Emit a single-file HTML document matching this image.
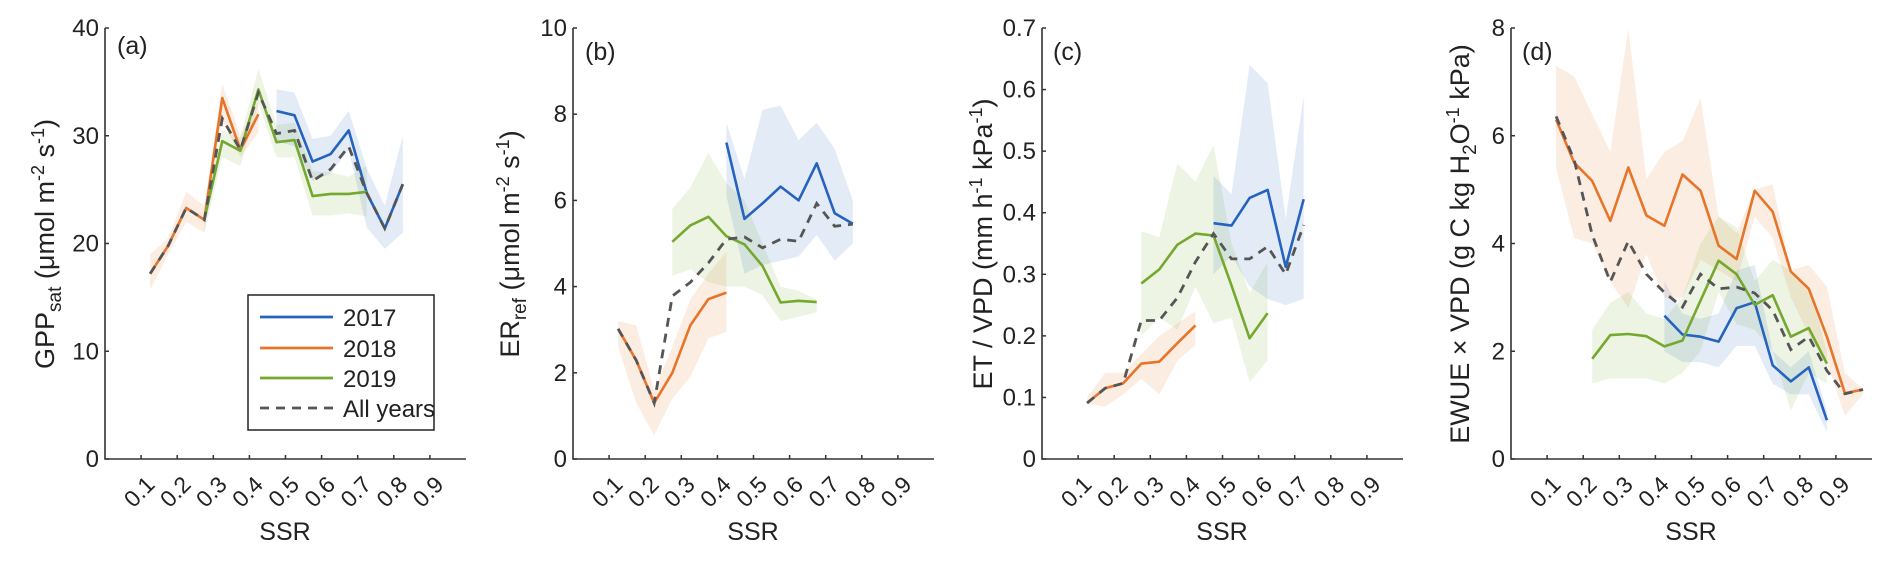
<!DOCTYPE html>
<html><head><meta charset="utf-8"><style>
html,body{margin:0;padding:0;background:#fff}
svg text{font-family:"Liberation Sans",sans-serif;fill:#222}
</style></head><body>
<svg id="chart" width="1892" height="559" viewBox="0 0 1892 559" xmlns="http://www.w3.org/2000/svg"></svg>
<script>
const ssrBins=[0.125,0.175,0.225,0.275,0.325,0.375,0.425,0.475,0.525,0.575,0.625,0.675,0.725,0.775,0.825,0.875,0.925,0.975];
const xTicks=[0.1,0.2,0.3,0.4,0.5,0.6,0.7,0.8,0.9];
const xTickLabels=["0.1","0.2","0.3","0.4","0.5","0.6","0.7","0.8","0.9"];
// Panel a: GPPsat
const aTicks=[0,10,20,30,40];
const a2017Start=7, a2017=[32.3,31.9,27.6,28.3,30.5,24.7,21.4,25.5], a2017Lo=[29.5,29,25.8,26.5,28.7,21.5,19.5,21], a2017Hi=[34.3,34,29.7,30,32.3,27,23.5,30];
const a2018Start=0, a2018=[17.2,19.8,23.3,22.2,33.5,28.7,32.0], a2018Lo=[15.7,19,22,21,31.5,28,30.3], a2018Hi=[19,20.5,24.8,23.5,34.8,30,33.3];
const a2019Start=3, a2019=[22.2,29.5,28.6,34.3,29.4,29.6,24.4,24.6,24.6,24.8], a2019Lo=[21,28,27.2,33,28,28,22.6,22.6,22.8,22.5], a2019Hi=[23,30.5,29.8,36.2,31,31.2,26.7,26.6,26.2,27.2];
const aAllStart=0, aAll=[17.2,19.8,23.3,22.2,31.6,28.7,34.0,30.2,30.5,25.8,26.9,29.0,24.7,21.4,25.5];
// Panel b: ERref
const bTicks=[0,2,4,6,8,10];
const b2017Start=6, b2017=[7.34,5.57,5.93,6.32,6.0,6.86,5.7,5.46], b2017Lo=[6.1,4.3,4.5,4.6,4.7,5.2,4.6,5.0], b2017Hi=[7.8,6.5,8.1,8.2,7.4,7.8,7.2,6.0];
const b2018Start=0, b2018=[3.02,2.29,1.3,2.0,3.1,3.71,3.86], b2018Lo=[2.6,1.3,0.55,1.4,1.9,2.8,2.95], b2018Hi=[3.2,3.1,1.6,2.6,3.7,4.3,4.8];
const b2019Start=3, b2019=[5.04,5.42,5.62,5.17,4.98,4.48,3.63,3.67,3.64], b2019Lo=[4.25,4.4,4.1,4.0,4.0,3.8,3.2,3.3,3.4], b2019Hi=[5.8,6.3,7.1,6.4,6.0,5.0,4.0,3.9,3.7];
const bAllStart=0, bAll=[3.02,2.29,1.3,3.78,4.1,4.55,5.1,5.15,4.9,5.1,5.05,5.93,5.4,5.45];
// Panel c: ET/VPD
const cTicks=[0,0.1,0.2,0.3,0.4,0.5,0.6,0.7];
const c2017Start=7, c2017=[0.383,0.379,0.424,0.437,0.312,0.422], c2017Lo=[0.3,0.33,0.28,0.26,0.25,0.26], c2017Hi=[0.46,0.43,0.64,0.61,0.39,0.59];
const c2018Start=0, c2018=[0.091,0.115,0.123,0.155,0.158,0.188,0.217], c2018Lo=[0.09,0.085,0.105,0.13,0.105,0.16,0.185], c2018Hi=[0.10,0.14,0.14,0.17,0.2,0.22,0.24];
const c2019Start=3, c2019=[0.285,0.308,0.348,0.366,0.363,0.282,0.196,0.237], c2019Lo=[0.2,0.23,0.21,0.28,0.22,0.23,0.125,0.16], c2019Hi=[0.37,0.36,0.48,0.45,0.51,0.35,0.27,0.32];
const cAllStart=0, cAll=[0.091,0.115,0.123,0.225,0.225,0.262,0.32,0.366,0.325,0.325,0.345,0.30,0.38];
// Panel d: EWUE x VPD
const dTicks=[0,2,4,6,8];
const d2017Start=6, d2017=[2.66,2.31,2.27,2.18,2.8,2.91,1.74,1.44,1.70,0.72], d2017Lo=[2.0,1.8,1.8,1.7,2.1,2.1,1.4,1.2,1.2,0.5], d2017Hi=[3.3,2.7,2.6,2.7,3.5,3.6,2.0,1.7,2.0,0.9];
const d2018Start=0, d2018=[6.3,5.5,5.16,4.42,5.41,4.52,4.33,5.28,4.98,3.96,3.71,4.98,4.59,3.48,3.16,2.27,1.22,1.29], d2018Lo=[5.4,4.1,4.0,3.3,2.8,3.8,3.0,3.0,3.7,3.5,3.3,4.5,4.1,3.0,2.3,1.8,0.8,1.2], d2018Hi=[7.3,7.1,6.4,5.7,8.0,5.2,5.7,5.9,6.7,4.5,4.2,5.0,5.1,3.5,3.6,3.2,1.6,1.3];
const d2019Start=2, d2019=[1.86,2.3,2.32,2.28,2.09,2.2,2.94,3.68,3.43,2.86,3.04,2.27,2.43,1.77], d2019Lo=[1.4,1.5,1.5,1.5,1.4,1.6,2.0,3.1,2.5,2.4,2.0,0.9,1.6,1.4], d2019Hi=[2.4,2.9,3.1,2.7,2.6,3.0,4.0,4.5,4.3,3.3,3.7,3.5,3.2,2.0];
const dAllStart=0, dAll=[6.36,5.55,4.16,3.29,4.04,3.43,3.09,2.82,3.43,3.16,3.19,3.08,2.76,2.03,2.27,1.64,1.21,1.29];

const NS="http://www.w3.org/2000/svg";
const svg=document.getElementById('chart');
const COL={c2017:"#2563be",c2018:"#e8742a",c2019:"#74a82e",all:"#555555"};
const TOP=28,BOT=459,W=361;
function mk(tag,attrs,parent){const e=document.createElementNS(NS,tag);for(const k in attrs)e.setAttribute(k,attrs[k]);(parent||svg).appendChild(e);return e;}

function panel(p){
  const g=mk('g',{});
  
  
  const X=v=>p.left+v*W;
  const Y=v=>BOT-(v-p.ymin)/(p.ymax-p.ymin)*(BOT-TOP);
  p.series.forEach(s=>{
    const top=s.hi.map((v,i)=>X(ssrBins[s.start+i]).toFixed(1)+','+Y(v).toFixed(1));
    const bot=s.lo.map((v,i)=>X(ssrBins[s.start+i]).toFixed(1)+','+Y(v).toFixed(1)).reverse();
    const b=mk('polygon',{points:top.concat(bot).join(' '),fill:s.color,'fill-opacity':0.13,stroke:'none'},g);
    
    
  });
  p.series.forEach(s=>{
    const pts=s.v.map((v,i)=>X(ssrBins[s.start+i]).toFixed(1)+','+Y(v).toFixed(1)).join(' ');
    const l=mk('polyline',{points:pts,fill:'none',stroke:s.color,'stroke-width':2.6,'stroke-linejoin':'round'},g);
    
    
  });
  const a=p.all;
  const pts=a.v.map((v,i)=>X(ssrBins[a.start+i]).toFixed(1)+','+Y(v).toFixed(1)).join(' ');
  const dl=mk('polyline',{points:pts,fill:'none',stroke:COL.all,'stroke-width':2.8,'stroke-dasharray':'9,7'},g);
  
  
  const ax=mk('path',{d:`M${p.left},${TOP} V${BOT} H${p.left+W}`,fill:'none',stroke:'#333','stroke-width':1.6},g);
  
  
  p.yticks.forEach(t=>{
    mk('line',{x1:p.left,x2:p.left+4,y1:Y(t),y2:Y(t),stroke:'#333','stroke-width':1.5},g);
    const tx=mk('text',{x:p.left-6,y:Y(t)+8,'text-anchor':'end','font-size':24},g);
    tx.textContent=p.yfmt(t);
    
    
  });
  xTicks.forEach((t,i)=>{
    mk('line',{x1:X(t),x2:X(t),y1:BOT,y2:BOT-4,stroke:'#333','stroke-width':1.5},g);
    const tx=mk('text',{x:X(t)+15,y:486,'text-anchor':'end','font-size':23,transform:`rotate(-45 ${X(t)+15} 486)`},g);
    tx.textContent=xTickLabels[i];
    
    
  });
  const xl=mk('text',{x:p.left+180,y:540,'text-anchor':'middle','font-size':25},g);
  xl.textContent='SSR';
  
  
  const pl=mk('text',{x:p.lblx,y:p.lbly,'font-size':25},g);
  pl.textContent='('+p.id+')';
  
  
  const yt=mk('text',{x:0,y:0,'text-anchor':'middle','font-size':27,transform:`translate(${p.tx},244) rotate(-90)`},g);
  yt.innerHTML=p.title;
  
  
}
function S(name,color,start,v,lo,hi){return {name,color,start,v,lo,hi};}
const f0=t=>String(t), f1=t=>t===0?'0':t.toFixed(1);
panel({id:'a',left:105,ymin:0,ymax:40,yticks:aTicks,yfmt:f0,lblx:117,lbly:54,tx:54,
  title:`GPP<tspan dy="7" font-size="19">sat</tspan><tspan dy="-7"> (μmol m</tspan><tspan dy="-10" font-size="18">-2</tspan><tspan dy="10"> s</tspan><tspan dy="-10" font-size="18">-1</tspan><tspan dy="10">)</tspan>`,
  series:[S('2017',COL.c2017,a2017Start,a2017,a2017Lo,a2017Hi),S('2018',COL.c2018,a2018Start,a2018,a2018Lo,a2018Hi),S('2019',COL.c2019,a2019Start,a2019,a2019Lo,a2019Hi)],
  all:{start:aAllStart,v:aAll}});
panel({id:'b',left:573,ymin:0,ymax:10,yticks:bTicks,yfmt:f0,lblx:585,lbly:60,tx:519,
  title:`ER<tspan dy="7" font-size="19">ref</tspan><tspan dy="-7"> (μmol m</tspan><tspan dy="-10" font-size="18">-2</tspan><tspan dy="10"> s</tspan><tspan dy="-10" font-size="18">-1</tspan><tspan dy="10">)</tspan>`,
  series:[S('2017',COL.c2017,b2017Start,b2017,b2017Lo,b2017Hi),S('2018',COL.c2018,b2018Start,b2018,b2018Lo,b2018Hi),S('2019',COL.c2019,b2019Start,b2019,b2019Lo,b2019Hi)],
  all:{start:bAllStart,v:bAll}});
panel({id:'c',left:1042,ymin:0,ymax:0.7,yticks:cTicks,yfmt:f1,lblx:1053,lbly:60,tx:992,
  title:`ET / VPD (mm h<tspan dy="-10" font-size="18">-1</tspan><tspan dy="10"> kPa</tspan><tspan dy="-10" font-size="18">-1</tspan><tspan dy="10">)</tspan>`,
  series:[S('2017',COL.c2017,c2017Start,c2017,c2017Lo,c2017Hi),S('2018',COL.c2018,c2018Start,c2018,c2018Lo,c2018Hi),S('2019',COL.c2019,c2019Start,c2019,c2019Lo,c2019Hi)],
  all:{start:cAllStart,v:cAll}});
panel({id:'d',left:1511,ymin:0,ymax:8,yticks:dTicks,yfmt:f0,lblx:1522,lbly:60,tx:1469,
  title:`EWUE × VPD (g C kg H<tspan dy="7" font-size="19">2</tspan><tspan dy="-7">O</tspan><tspan dy="-10" font-size="18">-1</tspan><tspan dy="10"> kPa)</tspan>`,
  series:[S('2017',COL.c2017,d2017Start,d2017,d2017Lo,d2017Hi),S('2018',COL.c2018,d2018Start,d2018,d2018Lo,d2018Hi),S('2019',COL.c2019,d2019Start,d2019,d2019Lo,d2019Hi)],
  all:{start:dAllStart,v:dAll}});

const lg=mk('g',{});


mk('rect',{x:248,y:295,width:186,height:135,fill:'#fff',stroke:'#222','stroke-width':1.5},lg);
const legNames=['2017','2018','2019','All years'];
const legCols=[COL.c2017,COL.c2018,COL.c2019,COL.all];
const legY=[317,348,378,408];
legNames.forEach((n,i)=>{
  const ln=mk('line',{x1:260,x2:333,y1:legY[i],y2:legY[i],stroke:legCols[i],'stroke-width':2.8},lg);
  if(i===3)ln.setAttribute('stroke-dasharray','9,7');
  
  
  const t=mk('text',{x:343,y:legY[i]+9,'font-size':24},lg);
  t.textContent=n;
  
  
});
</script>
</body></html>
